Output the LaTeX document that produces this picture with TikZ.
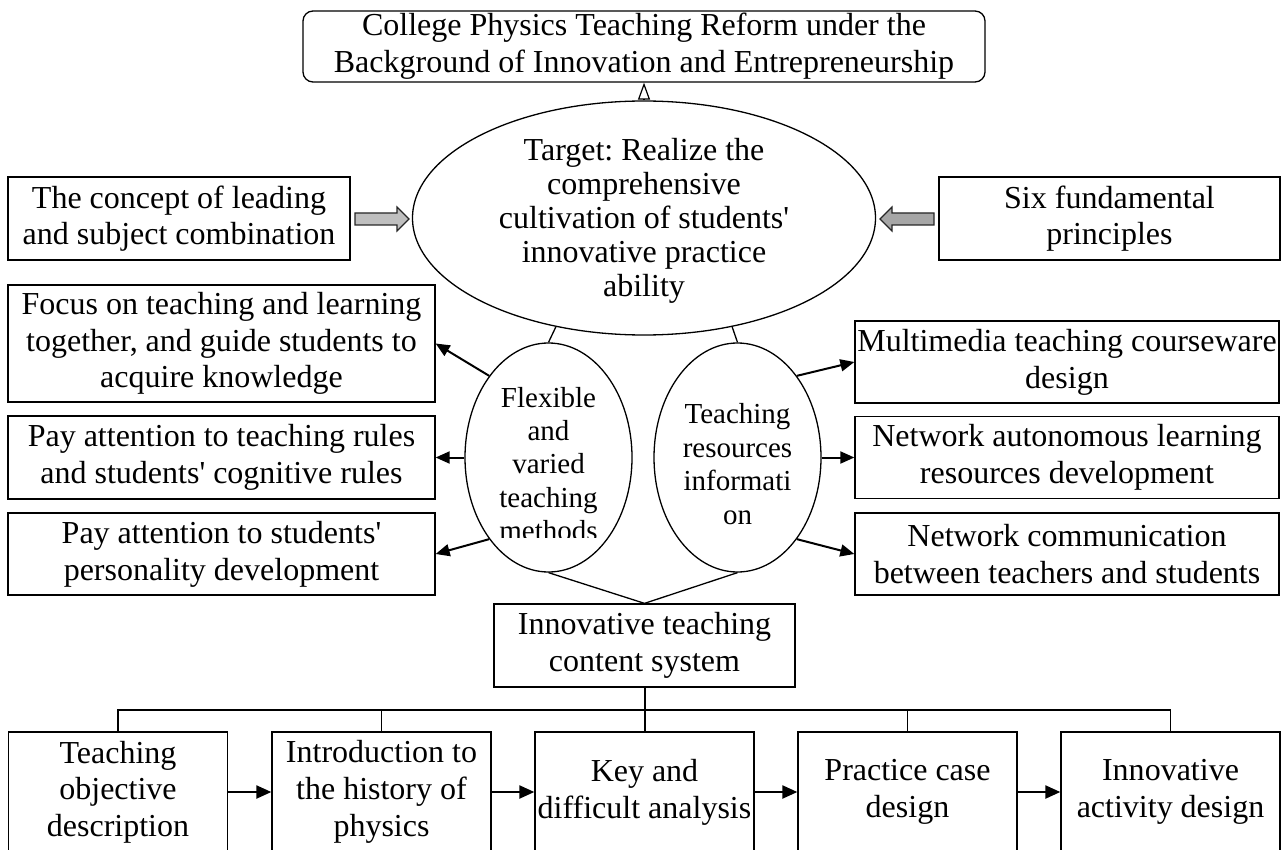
\documentclass[tikz,border=0pt]{standalone}
\usepackage{fontspec}
\setmainfont{Liberation Serif}[Ligatures=TeXOff]
\usetikzlibrary{arrows.meta,shapes.geometric,calc}
\frenchspacing

% type sizes used in the chart
\newcommand{\fntbox}{\fontsize{32}{36.7}\selectfont}
\newcommand{\fntell}{\fontsize{32}{34}\selectfont}
\newcommand{\fntsmall}{\fontsize{29}{33.4}\selectfont}

\begin{document}
\begin{tikzpicture}[x=1pt,y=-1pt,
  box/.style={draw, line width=1.3pt, align=center, inner sep=0pt, font=\fntbox},
  sidebox/.style={box, minimum width=427pt},
  rbox/.style={box, minimum width=424pt, minimum height=82pt},
  stagebox/.style={box, minimum width=219pt, minimum height=120pt},
  oval/.style={ellipse, draw, line width=1.3pt, inner sep=0pt},
  ovaltext/.style={align=center, inner sep=0pt},
  link/.style={line width=1.3pt},
  arr/.style={line width=2pt, -{Triangle[length=14pt,width=12pt]}},
  flowarr/.style={line width=2.2pt, -{Triangle[length=15pt,width=13pt]}},
  blockarr/.style={draw=black!85, line width=1.2pt}
]
\useasboundingbox (0,0) rectangle (1284,850);
\clip (0,0) rectangle (1284,850);

% title
\node[box, rounded corners=10pt, minimum width=682pt, minimum height=71pt] (title) at (644,46.5)
  {College Physics Teaching Reform under the\\Background of Innovation and Entrepreneurship};

% central goal
\node[oval, minimum width=463pt, minimum height=234pt] (goal) at (644,218) {};
\node[ovaltext, font=\fntell] (goaltext) at (644,221)
  {Target: Realize the\\comprehensive\\cultivation of students'\\innovative practice\\ability};
\draw[line width=1.2pt, -{Triangle[open,length=17pt,width=12pt]}] (goal.north) -- (title.south);

% guiding ideas on both sides
\node[box, minimum width=342pt, minimum height=83pt] (concept) at (179,218.5)
  {The concept of leading\\and subject combination};
\node[box, minimum width=341pt, minimum height=83pt] (principles) at (1109.5,218.5)
  {Six fundamental\\principles};
\filldraw[blockarr, fill=black!25] (355,213) -- (397,213) -- (397,207) -- (409,219)
  -- (397,231) -- (397,225) -- (355,225) -- cycle;
\filldraw[blockarr, fill=black!35] (934,213) -- (892,213) -- (892,207) -- (880,219)
  -- (892,231) -- (892,225) -- (934,225) -- cycle;

% teaching methods branch
\node[sidebox, minimum height=117pt] (m1) at (221.5,343.5)
  {Focus on teaching and learning\\together, and guide students to\\acquire knowledge};
\node[sidebox, minimum height=83pt] (m2) at (221.5,457.5)
  {Pay attention to teaching rules\\and students' cognitive rules};
\node[sidebox, minimum height=82pt] (m3) at (221.5,554)
  {Pay attention to students'\\personality development};

% teaching resources branch
\node[rbox] (r1) at (1067,362) {Multimedia teaching courseware\\design};
\node[rbox] (r2) at (1067,457.5) {Network autonomous learning\\resources development};
\node[rbox] (r3) at (1067,554) {Network communication\\between teachers and students};

% the two method ovals
\node[oval, minimum width=167pt, minimum height=229pt] (flex) at (548.5,457.5) {};
\node[oval, minimum width=167pt, minimum height=229pt] (res) at (737.5,457.5) {};
\begin{scope}
  \clip (440,330) rectangle (660,537);
  \node[ovaltext, font=\fntsmall] (flextext) at (548.5,464)
    {Flexible\\and\\varied\\teaching\\methods};
\end{scope}
\node[ovaltext, font=\fntsmall] (restext) at (737.5,464)
  {Teaching\\resources\\informati\\on};

\draw[link] (goal.231) -- (flex.north);
\draw[link] (goal.309) -- (res.north);

\draw[arr] (flex.126) -- (m1.east);
\draw[arr] (flex.west) -- (m2.east);
\draw[arr] (flex.234) -- (m3.east);
\draw[arr] (res.54) -- (r1.west);
\draw[arr] (res.east) -- (r2.west);
\draw[arr] (res.-54) -- (r3.west);

% content system
\node[box, minimum width=301pt, minimum height=83pt] (content) at (644.5,645.5)
  {Innovative teaching\\content system};
\draw[link] (flex.south) -- (content.north);
\draw[link] (res.south) -- (content.north);

% teaching stages
\node[stagebox] (s1) at (118,792) {Teaching\\objective\\description};
\node[stagebox] (s2) at (381.5,792) {Introduction to\\the history of\\physics};
\node[stagebox] (s3) at (644.5,792) {Key and\\difficult analysis};
\node[stagebox] (s4) at (907.5,792) {Practice case\\design};
\node[stagebox] (s5) at (1170.5,792) {Innovative\\activity design};

\coordinate (bus) at (644.5,710);
\draw[line width=2pt] (content.south) -- (s3.north);
\draw[link] (s1.north) |- (bus) -| (s5.north);
\draw[link] (s2.north) -- (s2.north |- bus);
\draw[link] (s4.north) -- (s4.north |- bus);

\draw[flowarr] (s1) -- (s2);
\draw[flowarr] (s2) -- (s3);
\draw[flowarr] (s3) -- (s4);
\draw[flowarr] (s4) -- (s5);
\end{tikzpicture}
\end{document}
